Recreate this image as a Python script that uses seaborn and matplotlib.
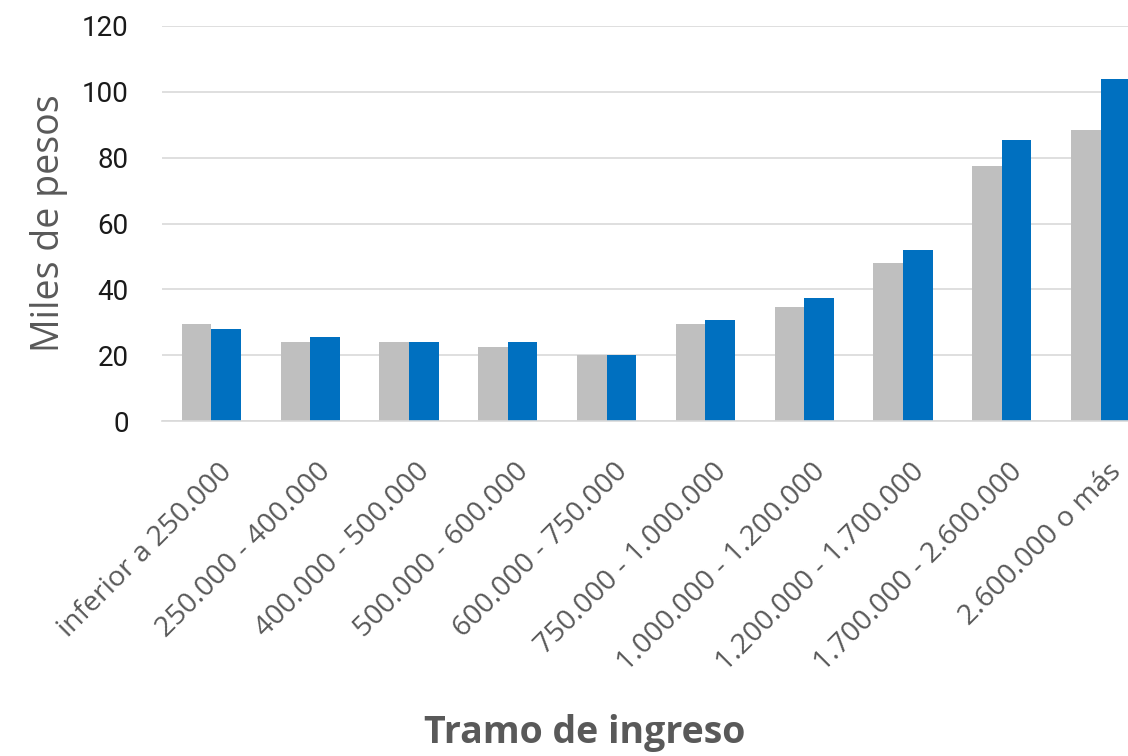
import numpy as np
import pandas as pd
import seaborn as sns
import matplotlib.pyplot as plt
import matplotlib.transforms as mtransforms

# ──────────────────────────────
# Data (miles de pesos por tramo de ingreso)
# ──────────────────────────────
tramos = [
    "inferior a 250.000",
    "250.000 - 400.000",
    "400.000 - 500.000",
    "500.000 - 600.000",
    "600.000 - 750.000",
    "750.000 - 1.000.000",
    "1.000.000 - 1.200.000",
    "1.200.000 - 1.700.000",
    "1.700.000 - 2.600.000",
    "2.600.000 o más",
]
serie_gris = [29.4, 24.0, 24.0, 22.6, 20.0, 29.4, 34.7, 48.1, 77.4, 88.3]
serie_azul = [28.0, 25.4, 24.0, 24.0, 20.0, 30.8, 37.3, 52.0, 85.4, 104.0]
series = ["Serie 1", "Serie 2"]
y_ticks = [0, 20, 40, 60, 80, 100, 120]

df = pd.DataFrame({
    "tramo": tramos * 2,
    "serie": [series[0]] * len(tramos) + [series[1]] * len(tramos),
    "valor": serie_gris + serie_azul,
})

# ──────────────────────────────
# Plot
# ──────────────────────────────
sns.set_style("white")
plt.rcParams["font.family"] = ["Open Sans", "DejaVu Sans"]

fig = plt.figure(figsize=(11.28, 7.56), dpi=100)
W, H = 1128, 756
left, right_px, top, bottom = 162, 162 + 98.8 * 10, 26, 421
ax = fig.add_axes([left / W, 1 - bottom / H, (right_px - left) / W, (bottom - top) / H])

sns.barplot(
    data=df, x="tramo", y="valor", hue="serie",
    palette=["#bfbfbf", "#0070c0"], width=0.6, gap=0,
    saturation=1, legend=False, linewidth=0, ax=ax,
)

ax.set_ylim(0, 120)
ax.set_xlim(-0.5, len(tramos) - 0.5)
ax.set_yticks(y_ticks)
ax.yaxis.grid(True, color="#d9d9d9", linewidth=1.2)
ax.set_axisbelow(True)
for side in ["top", "right", "left"]:
    ax.spines[side].set_visible(False)
ax.spines["bottom"].set_color("#d9d9d9")
ax.spines["bottom"].set_linewidth(1.2)
ax.tick_params(axis="both", length=0)
ax.tick_params(axis="y", pad=24)

for lbl in ax.get_yticklabels():
    lbl.set_family(["Roboto", "DejaVu Sans"])
    lbl.set_fontsize(20)
    lbl.set_color("#1a1a1a")

# labels shifted so that the last one stays inside the picture
offset = mtransforms.ScaledTranslation(7 / 100, -32 / 100, fig.dpi_scale_trans)
for lbl in ax.get_xticklabels():
    lbl.set_rotation(45)
    lbl.set_ha("right")
    lbl.set_va("top")
    lbl.set_rotation_mode("anchor")
    lbl.set_fontsize(20.5)
    lbl.set_color("#595959")
    lbl.set_transform(lbl.get_transform() + offset)

ax.set_ylabel("Miles de pesos", fontsize=27, color="#595959", labelpad=10)
ax.set_xlabel("")
fig.text(585 / W, 1 - 733 / H, "Tramo de ingreso", fontsize=27, fontweight="bold",
         color="#595959", ha="center", va="center")

fig.savefig("out.png", dpi=100)
plt.close(fig)
